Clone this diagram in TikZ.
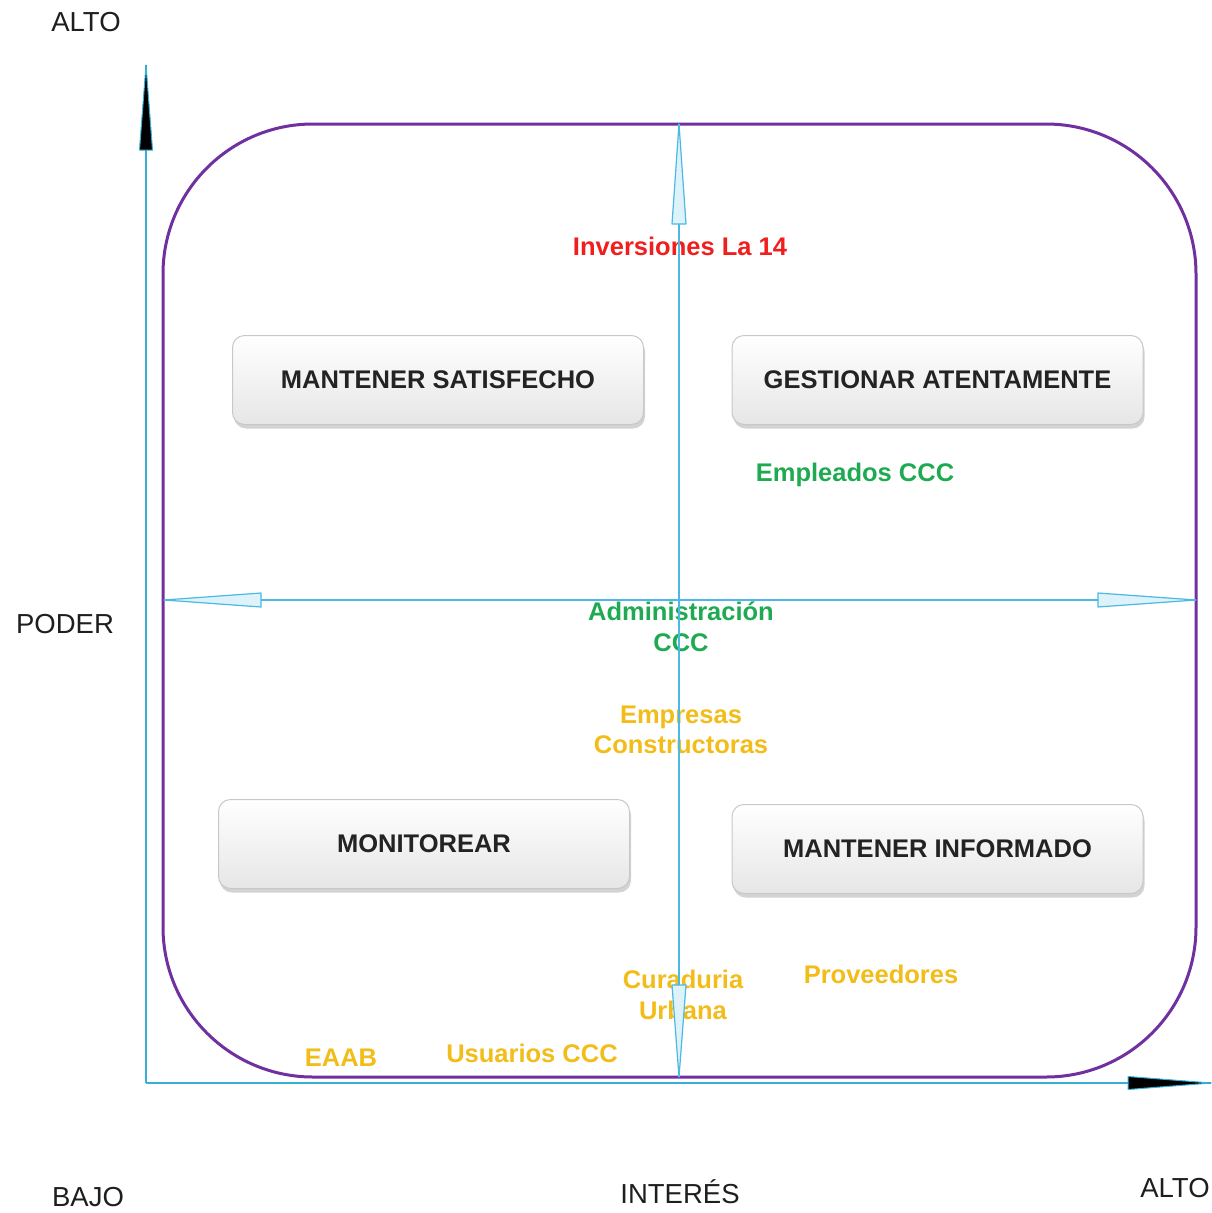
\documentclass[tikz,border=0pt]{standalone}
\usepackage{fontspec}
\setmainfont{Liberation Sans}
\usetikzlibrary{shadows}
\definecolor{frame}{RGB}{112,48,160}
\definecolor{axis}{RGB}{55,175,215}
\definecolor{crossc}{RGB}{75,185,228}
\definecolor{tipfill}{RGB}{222,242,250}
\definecolor{lblred}{RGB}{240,30,30}
\definecolor{lblgreen}{RGB}{30,170,80}
\definecolor{lblyellow}{RGB}{242,188,25}
\definecolor{boxtext}{RGB}{35,35,35}
\definecolor{boxedge}{RGB}{200,200,200}
\definecolor{boxbot}{RGB}{230,230,230}
\begin{document}
\begin{tikzpicture}[x=1pt,y=-1pt,
  axislbl/.style={font=\fontsize{27.5}{32}\selectfont, text={rgb,255:red,30;green,30;blue,30}, inner sep=0pt},
  quad/.style={draw=boxedge, line width=1pt, rounded corners=12pt, top color=white, bottom color=boxbot,
    minimum width=411pt, minimum height=89pt,
    drop shadow={shadow xshift=1.5pt, shadow yshift=-4pt, opacity=0.35},
    font=\bfseries\fontsize{25.5}{30}\selectfont, text=boxtext},
  actor/.style={font=\bfseries\fontsize{25.5}{30.5}\selectfont, align=center, inner sep=0pt},
  mainaxis/.style={draw=axis, line width=1.5pt},
  crossaxis/.style={draw=crossc, line width=1.5pt},
  opentip/.style={draw=crossc, line width=1.2pt, fill=tipfill, line join=round},
  solidtip/.style={draw=axis, line width=1pt, fill=black, line join=round},
]
\useasboundingbox (0,0) rectangle (1212,1213);
% frame
\draw[frame, line width=3pt, rounded corners=150pt] (163,124) rectangle (1196,1077);
% coordinates
\coordinate (O) at (146,1083);
\coordinate (Ytop) at (146,65);
\coordinate (Xend) at (1211,1083);
\coordinate (Ct) at (679,124);
\coordinate (Cb) at (679,1077);
\coordinate (Cl) at (164,600);
\coordinate (Cr) at (1196,600);
% boxes
\node[quad] (ms) at (438,380) {MANTENER SATISFECHO};
\node[quad] (ga) at (937.5,380) {GESTIONAR ATENTAMENTE};
\node[quad] (mon) at (424,844) {MONITOREAR};
\node[quad] (mi) at (937.5,849) {MANTENER INFORMADO};
% actors
\node[actor, text=lblred] (inv) at (680,246) {Inversiones La 14};
\node[actor, text=lblgreen] (emp) at (855,475) {Empleados CCC};
\node[actor, text=lblgreen] (adm) at (681,627) {Administración\\CCC};
\node[actor, text=lblyellow] (empc) at (681,730) {Empresas\\Constructoras};
\node[actor, text=lblyellow] (cur) at (683,995) {Curaduria\\Urbana};
\node[actor, text=lblyellow] (prov) at (881,974) {Proveedores};
\node[actor, text=lblyellow] (eaab) at (341,1058) {EAAB};
\node[actor, text=lblyellow] (usu) at (532,1053) {Usuarios CCC};
% cross axes
\draw[crossaxis] (Ct) -- (Cb);
\draw[crossaxis] (Cl) -- (Cr);
\draw[opentip] (Ct) -- ++(-7,100) -- ++(14,0) -- cycle;
\draw[opentip] (Cb) -- ++(-7,-92) -- ++(14,0) -- cycle;
\draw[opentip] (Cl) -- ++(97,-7) -- ++(0,14) -- cycle;
\draw[opentip] (Cr) -- ++(-98,-7) -- ++(0,14) -- cycle;
% main axes
\draw[mainaxis] (O) -- (Ytop);
\draw[mainaxis] (O) -- (Xend);
\draw[solidtip] (Ytop) -- ++(-6.5,85) -- ++(13,0) -- cycle;
\draw[solidtip] (Xend) -- ++(-83,-6.5) -- ++(0,13) -- cycle;
% axis labels
\node[axislbl] (altoy) at (86,22) {ALTO};
\node[axislbl] (poder) at (65,624) {PODER};
\node[axislbl] (bajo) at (88,1197) {BAJO};
\node[axislbl] (interes) at (680,1192) {INTERÉS};
\node[axislbl] (altox) at (1175,1188) {ALTO};
\end{tikzpicture}
\end{document}
